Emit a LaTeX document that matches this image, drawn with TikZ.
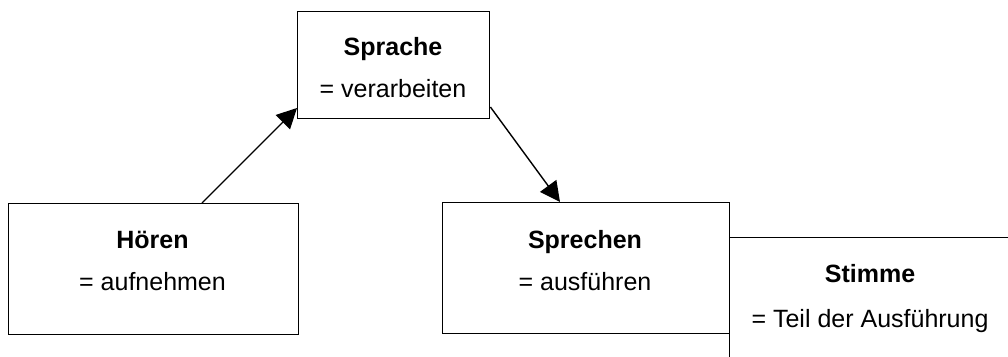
\documentclass[tikz,border=0pt]{standalone}
\usepackage{fontspec}
\setmainfont{Liberation Sans}
\usetikzlibrary{arrows.meta,calc}
\begin{document}
\begin{tikzpicture}[x=1pt,y=-1pt,
  box/.style={draw,line width=1.4pt,rectangle,inner sep=0pt,anchor=north west,fill=white},
  head/.style={font=\fontsize{25}{30}\selectfont\bfseries,anchor=base,inner sep=0pt},
  gloss/.style={font=\fontsize{25}{30}\selectfont,anchor=base,inner sep=0pt},
  link/.style={line width=1.4pt,-{Triangle[length=20pt,width=20pt]}}]
\useasboundingbox (0,0) rectangle (1008,356);
% boxes
\node[box,minimum width=290pt,minimum height=131pt] (hoeren) at (8,203) {};
\node[box,minimum width=192pt,minimum height=107pt] (sprache) at (297,11) {};
\node[box,minimum width=287pt,minimum height=131pt] (sprechen) at (442,202) {};
\node[box,minimum width=300pt,minimum height=160pt] (stimme) at (729,237) {};
% labels
\node[head] (hoerenT) at (152.5,248) {Hören};
\node[gloss] (hoerenG) at (152.5,290) {= aufnehmen};
\node[head] (spracheT) at (393,55) {Sprache};
\node[gloss] (spracheG) at (393,97) {= verarbeiten};
\node[head] (sprechenT) at (585,248) {Sprechen};
\node[gloss] (sprechenG) at (585,290) {= ausführen};
\node[head] (stimmeT) at (870,282) {Stimme};
\node[gloss] (stimmeG) at (870,327) {= Teil der Ausführung};
% connectors
\draw[link] ($(hoeren.north west)+(194,0)$) -- ($(sprache.north west)+(0,97)$);
\draw[link] ($(sprache.north east)+(0,96)$) -- ($(sprechen.north west)+(118,0)$);
\end{tikzpicture}
\end{document}
